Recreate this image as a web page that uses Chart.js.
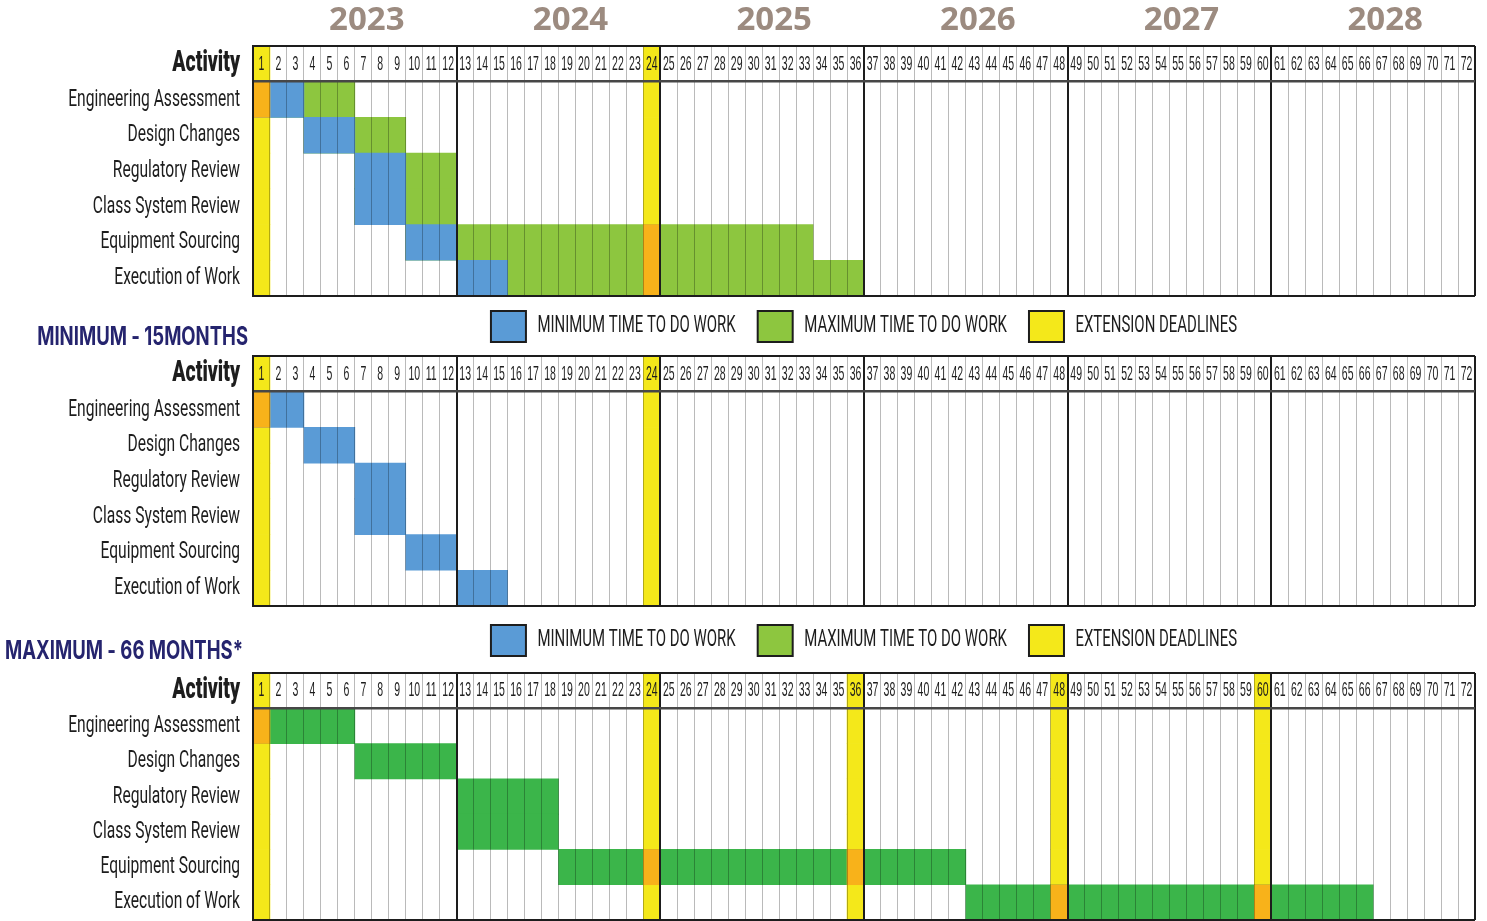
<!DOCTYPE html>
<html>
<head>
<meta charset="utf-8">
<title>Project schedule</title>
<script src="https://cdn.jsdelivr.net/npm/chart.js@4.4.1/dist/chart.umd.min.js"></script>
<style>
  html, body { margin: 0; padding: 0; background: #ffffff; width: 1487px; height: 921px; overflow: hidden; }
  canvas { position: absolute; left: 0; }
</style>
</head>
<body>
<canvas id="planCombined" width="1487" height="300" style="top:0px"></canvas>
<canvas id="planMinimum" width="1487" height="321" style="top:289px"></canvas>
<canvas id="planMaximum" width="1487" height="321" style="top:603px"></canvas>
<script>
// ---- schedule data -------------------------------------------------------
const years = ['2023', '2024', '2025', '2026', '2027', '2028'];
const months = Array.from({ length: 72 }, (_, i) => String(i + 1));
const headerLabel = 'Activity';
const activities = [
  'Engineering Assessment',
  'Design Changes',
  'Regulatory Review',
  'Class System Review',
  'Equipment Sourcing',
  'Execution of Work'
];
// month offsets (0 = start of month 1)
const minStart    = [0, 3, 6, 6, 9, 12];
const minEnd      = [3, 6, 9, 9, 12, 15];
const extendedEnd = [6, 9, 12, 12, 33, 36];
const maxStart    = [0, 6, 12, 12, 18, 42];
const maxEnd      = [6, 12, 18, 18, 42, 66];
// months carrying an extension deadline
const deadlinesShort = [1, 24];
const deadlinesLong  = [1, 24, 36, 48, 60];
const legendLabels = ['MINIMUM TIME TO DO WORK', 'MAXIMUM TIME TO DO WORK', 'EXTENSION DEADLINES'];
const titleMin = 'MINIMUM - 15MONTHS';
const titleMax = 'MAXIMUM - 66 MONTHS*';

// ---- look ----------------------------------------------------------------
const COL = {
  blue: '#5a9bd6', lime: '#8dc63f', green: '#3bb54a',
  yellow: '#f4e81a', orange: '#f8b21a',
  ink: '#1d1d1d', year: '#9c8b80', navy: '#25246e'
};
const LABEL_FONT = 'Roboto, sans-serif';
const NUMBER_FONT = '"Liberation Sans", sans-serif';
const TITLE_FONT = 'Inter, sans-serif';
const YEAR_FONT = '"Open Sans", sans-serif';
const MONTH_SIZE = 21;
const rowLabels = [headerLabel, ...activities];

// No condensed cut of these faces is installed, so text set in them is
// drawn with a horizontal squeeze (measurements are squeezed to match).
const SQUEEZE = [['Liberation Sans', 0.5], ['Roboto', 0.65], ['Inter', 0.74]];
function squeezeFor(font) {
  for (const [name, f] of SQUEEZE) if (font.indexOf(name) !== -1) return f;
  return 1;
}
function condensedContext(canvas) {
  const ctx = canvas.getContext('2d');
  const fill = ctx.fillText;
  const measure = ctx.measureText;
  ctx.fillText = function (text, x, y, maxWidth) {
    const f = squeezeFor(this.font);
    if (f === 1) return fill.call(this, text, x, y, maxWidth);
    this.save();
    this.translate(x, y);
    this.scale(f, 1);
    fill.call(this, text, 0, 0, maxWidth === undefined ? undefined : maxWidth / f);
    this.restore();
  };
  ctx.measureText = function (text) {
    const m = measure.call(this, text);
    const f = squeezeFor(this.font);
    if (f === 1) return m;
    return {
      width: m.width * f,
      actualBoundingBoxLeft: m.actualBoundingBoxLeft * f,
      actualBoundingBoxRight: m.actualBoundingBoxRight * f,
      actualBoundingBoxAscent: m.actualBoundingBoxAscent,
      actualBoundingBoxDescent: m.actualBoundingBoxDescent,
      fontBoundingBoxAscent: m.fontBoundingBoxAscent,
      fontBoundingBoxDescent: m.fontBoundingBoxDescent
    };
  };
  return ctx;
}

// ---- dataset builders ----------------------------------------------------
function spans(starts, ends) {
  return activities.map((a, i) => ({ x: [starts[i], ends[i]], y: a }));
}
function deadlineColumns(deadlines) {
  return deadlines.flatMap(m => rowLabels.map(r => ({ x: [m - 1, m], y: r })));
}
function deadlineHits(starts, ends, deadlines) {
  const out = [];
  activities.forEach((a, i) => {
    deadlines.forEach(m => {
      if (starts[i] <= m - 1 && ends[i] >= m) out.push({ x: [m - 1, m], y: a });
    });
  });
  return out;
}
function barSet(label, data, color, order) {
  return {
    label, data, order,
    backgroundColor: color,
    xAxisID: 'x', yAxisID: 'y',
    grouped: false, barPercentage: 1, categoryPercentage: 1,
    borderWidth: 0, borderSkipped: false
  };
}

// ---- scales --------------------------------------------------------------
function fixedSize(size) {
  return (s) => {
    if (s.isHorizontal()) s.height = size; else s.width = size;
    s.paddingTop = s.paddingBottom = s.paddingLeft = s.paddingRight = 0;
  };
}
function buildScales(g) {
  const headerH = (g.areaBottom - g.areaTop) / rowLabels.length;
  const scales = {
    x: {
      type: 'linear', position: 'bottom', min: 0, max: 72,
      ticks: { display: false, stepSize: 1, autoSkip: false },
      grid: {
        drawTicks: false, z: 1,
        color: c => (c.tick && c.tick.value % 12 === 0) ? COL.ink : 'rgba(0,0,0,0.27)',
        lineWidth: c => (c.tick && c.tick.value % 12 === 0) ? 2 : 1
      },
      border: { display: false },
      afterFit: fixedSize(g.bottomH)
    },
    // month numbers sit inside the header row of the grid
    months: {
      type: 'category', position: 'top', labels: months, offset: true, weight: 0,
      grid: { display: false, drawTicks: false },
      border: { display: false },
      ticks: {
        autoSkip: false, maxRotation: 0, minRotation: 0, z: 1,
        mirror: true,
        padding: headerH / 2 - MONTH_SIZE * 0.6,
        color: COL.ink,
        font: { family: NUMBER_FONT, size: MONTH_SIZE }
      },
      afterFit: fixedSize(g.monthsH)
    },
    y: {
      type: 'category', position: 'left', labels: rowLabels, offset: true,
      grid: {
        offset: true, drawTicks: false, z: 1,
        color: c => {
          const i = c.index ?? rowLabels.length;
          if (i === 1) return '#474747';
          if (i === 0 || i === rowLabels.length) return COL.ink;
          return 'rgba(0,0,0,0)';
        },
        lineWidth: c => {
          const i = c.index ?? rowLabels.length;
          if (i === 1) return 2.5;
          if (i === 0 || i === rowLabels.length) return 2;
          return 0;
        }
      },
      border: { display: true, color: COL.ink, width: 2, z: 1 },
      ticks: {
        autoSkip: false, padding: 13, color: COL.ink,
        font: c => c.index === 0
          ? { family: LABEL_FONT, size: 30, weight: '900' }
          : { family: LABEL_FONT, size: 24 }
      },
      afterFit: fixedSize(253)
    }
  };
  if (g.showYears) {
    scales.years = {
      type: 'category', position: 'top', labels: years, offset: true, weight: 1,
      grid: { display: false, drawTicks: false },
      border: { display: false },
      ticks: {
        autoSkip: false, maxRotation: 0, minRotation: 0,
        padding: 6, labelOffset: 12, color: COL.year,
        font: { family: YEAR_FONT, size: 33, weight: 'bold' }
      },
      afterFit: fixedSize(g.yearsH)
    };
  }
  return scales;
}

// ---- panel title drawn beside the legend ---------------------------------
const panelTitle = {
  id: 'panelTitle',
  afterDraw(chart, args, opts) {
    if (!opts || !opts.text) return;
    const ctx = chart.ctx;
    ctx.save();
    ctx.font = 'bold ' + opts.size + 'px ' + TITLE_FONT;
    ctx.fillStyle = opts.color;
    ctx.textAlign = 'right';
    ctx.textBaseline = 'middle';
    ctx.fillText(opts.text, opts.x, opts.y);
    ctx.restore();
  }
};

function legendOptions(show) {
  const fills = [COL.blue, COL.lime, COL.yellow];
  return {
    display: show, position: 'top', align: 'center', fullSize: false,
    labels: {
      boxWidth: 35, boxHeight: 31, padding: 22, color: COL.ink,
      font: { family: LABEL_FONT, size: 23 },
      generateLabels: () => legendLabels.map((t, i) => ({
        text: t, fillStyle: fills[i], strokeStyle: COL.ink, lineWidth: 2,
        hidden: false, fontColor: COL.ink
      }))
    }
  };
}

function makeChart(id, datasets, g, title) {
  const ctx = condensedContext(document.getElementById(id));
  return new Chart(ctx, {
    type: 'bar',
    data: { labels: rowLabels, datasets },
    plugins: title ? [panelTitle] : [],
    options: {
      indexAxis: 'y',
      responsive: false,
      animation: false,
      devicePixelRatio: 1,
      events: [],
      layout: { padding: { left: 0, right: 12, top: 0, bottom: 0 } },
      scales: buildScales(g),
      plugins: {
        legend: legendOptions(!!g.legend),
        tooltip: { enabled: false },
        title: { display: false },
        panelTitle: title || {}
      }
    }
  });
}

// ---- combined schedule (minimum + extension) -----------------------------
makeChart('planCombined', [
  barSet('Extension deadlines', deadlineColumns(deadlinesShort), COL.yellow, 4),
  barSet('Maximum time', spans(minStart, extendedEnd), COL.lime, 3),
  barSet('Minimum time', spans(minStart, minEnd), COL.blue, 2),
  barSet('Deadline overlap', deadlineHits(minStart, extendedEnd, deadlinesShort), COL.orange, 1)
], { areaTop: 46, areaBottom: 296, yearsH: 46, monthsH: 0, bottomH: 4, showYears: true, legend: false });

// ---- minimum schedule ----------------------------------------------------
makeChart('planMinimum', [
  barSet('Extension deadlines', deadlineColumns(deadlinesShort), COL.yellow, 4),
  barSet('Minimum time', spans(minStart, minEnd), COL.blue, 2),
  barSet('Deadline overlap', deadlineHits(minStart, minEnd, deadlinesShort), COL.orange, 1)
], { areaTop: 67, areaBottom: 317, monthsH: 4, bottomH: 4, legend: true },
{ text: titleMin, x: 248, y: 48, size: 25, color: COL.navy });

// ---- maximum schedule ----------------------------------------------------
makeChart('planMaximum', [
  barSet('Extension deadlines', deadlineColumns(deadlinesLong), COL.yellow, 4),
  barSet('Maximum time', spans(maxStart, maxEnd), COL.green, 3),
  barSet('Deadline overlap', deadlineHits(maxStart, maxEnd, deadlinesLong), COL.orange, 1)
], { areaTop: 70, areaBottom: 317, monthsH: 7, bottomH: 4, legend: true },
{ text: titleMax, x: 243, y: 48, size: 25, color: COL.navy });
</script>
</body>
</html>
